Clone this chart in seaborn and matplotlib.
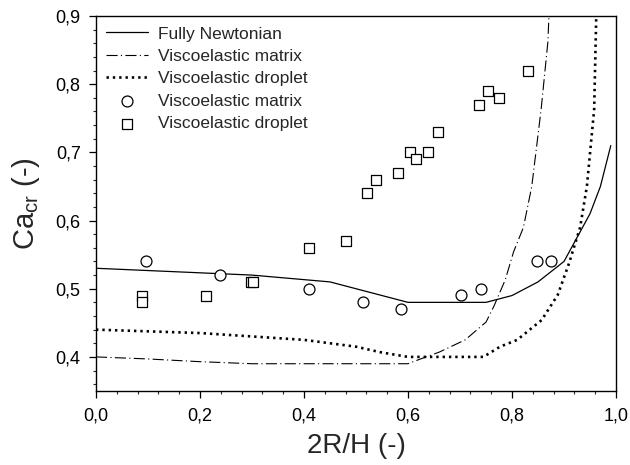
import matplotlib
matplotlib.use("Agg")
import matplotlib.pyplot as plt
import seaborn as sns
import pandas as pd
from matplotlib.ticker import MultipleLocator, FuncFormatter

# ---- data ----
newt_x = [0.0, 0.15, 0.30, 0.45, 0.60, 0.75, 0.80, 0.85, 0.90, 0.95, 0.97, 0.99]
newt_y = [0.53, 0.525, 0.52, 0.51, 0.48, 0.48, 0.49, 0.51, 0.54, 0.61, 0.65, 0.71]

vm_x = [0.0, 0.10, 0.20, 0.30, 0.60, 0.61, 0.66, 0.71, 0.75, 0.765, 0.787, 0.803, 0.822, 0.838, 0.856, 0.869, 0.871]
vm_y = [0.40, 0.397, 0.393, 0.39, 0.39, 0.393, 0.407, 0.425, 0.451, 0.474, 0.513, 0.554, 0.59, 0.65, 0.763, 0.862, 0.90]

vd_x = [0.0, 0.20, 0.40, 0.50, 0.546, 0.60, 0.745, 0.777, 0.81, 0.857, 0.888, 0.91, 0.931, 0.944, 0.958, 0.962]
vd_y = [0.44, 0.435, 0.425, 0.415, 0.407, 0.40, 0.40, 0.415, 0.425, 0.454, 0.491, 0.538, 0.59, 0.65, 0.763, 0.90]

circ_x = [0.096, 0.238, 0.41, 0.514, 0.587, 0.702, 0.740, 0.848, 0.875]
circ_y = [0.54, 0.52, 0.50, 0.481, 0.47, 0.491, 0.50, 0.54, 0.54]

sq_x = [0.088, 0.088, 0.211, 0.298, 0.302, 0.41, 0.481, 0.521, 0.539, 0.581,
        0.604, 0.616, 0.639, 0.657, 0.737, 0.753, 0.775, 0.831]
sq_y = [0.49, 0.48, 0.49, 0.51, 0.51, 0.56, 0.57, 0.64, 0.66, 0.67,
        0.70, 0.69, 0.70, 0.73, 0.77, 0.79, 0.78, 0.82]

labels = ["Fully Newtonian", "Viscoelastic matrix", "Viscoelastic droplet",
          "Viscoelastic matrix", "Viscoelastic droplet"]

# ---- style ----
sns.set_style("ticks")
plt.rcParams['font.family'] = ['Liberation Sans', 'DejaVu Sans']
plt.rcParams['mathtext.fontset'] = 'custom'
plt.rcParams['mathtext.rm'] = 'Liberation Sans'
plt.rcParams['mathtext.it'] = 'Liberation Sans'

fig = plt.figure(figsize=(6.3, 4.65), dpi=100)
ax = fig.add_axes([96/630, 1-391/465, 520/630, 375/465])

sns.lineplot(x=newt_x, y=newt_y, ax=ax, color='black', lw=0.9,
             estimator=None, sort=False, label=labels[0])
sns.lineplot(x=vm_x, y=vm_y, ax=ax, color='black', lw=0.8,
             linestyle=(0, (10, 3, 1, 3)), estimator=None, sort=False, label=labels[1])
sns.lineplot(x=vd_x, y=vd_y, ax=ax, color='black', lw=1.9,
             linestyle=(0, (0.9, 1.5)), estimator=None, sort=False, label=labels[2])
sns.scatterplot(x=circ_x, y=circ_y, ax=ax, marker='o', s=62, facecolor='white',
                edgecolor='black', linewidth=0.9, label=labels[3], zorder=3)
sns.scatterplot(x=sq_x, y=sq_y, ax=ax, marker='s', s=50, facecolor='white',
                edgecolor='black', linewidth=0.9, label=labels[4], zorder=3)

ax.set_xlim(0, 1.0)
ax.set_ylim(0.35, 0.9)
ax.xaxis.set_major_locator(MultipleLocator(0.2))
ax.xaxis.set_minor_locator(MultipleLocator(0.04))
ax.yaxis.set_minor_locator(MultipleLocator(0.02))
fmt = FuncFormatter(lambda v, p: f"{v:.1f}".replace('.', ','))
ax.xaxis.set_major_formatter(fmt)
ax.yaxis.set_major_formatter(fmt)
yt = [0.4, 0.5, 0.6, 0.7, 0.8, 0.9]
ax.set_yticks(yt)

ax.tick_params(which='major', direction='out', length=5, width=0.9, labelsize=13, colors='black')
ax.tick_params(axis='y', which='major', pad=6)
ax.tick_params(axis='x', which='major', pad=7)
ax.tick_params(which='minor', direction='out', length=2.5, width=0.8)
ax.tick_params(top=False, right=False, which='both')
for s in ax.spines.values():
    s.set_visible(True)
    s.set_linewidth(1.0)
    s.set_color('black')

ax.set_xlabel("2R/H (-)", fontsize=20, labelpad=6)
ax.set_ylabel(r"Ca$_{\mathregular{cr}}$ (-)", fontsize=21, labelpad=10)

leg = ax.legend(loc='upper left', frameon=False, fontsize=12.5, handlelength=2.4,
                handletextpad=0.6, labelspacing=0.42, borderaxespad=0.2, borderpad=0.4)

fig.savefig("out.png", dpi=100)
